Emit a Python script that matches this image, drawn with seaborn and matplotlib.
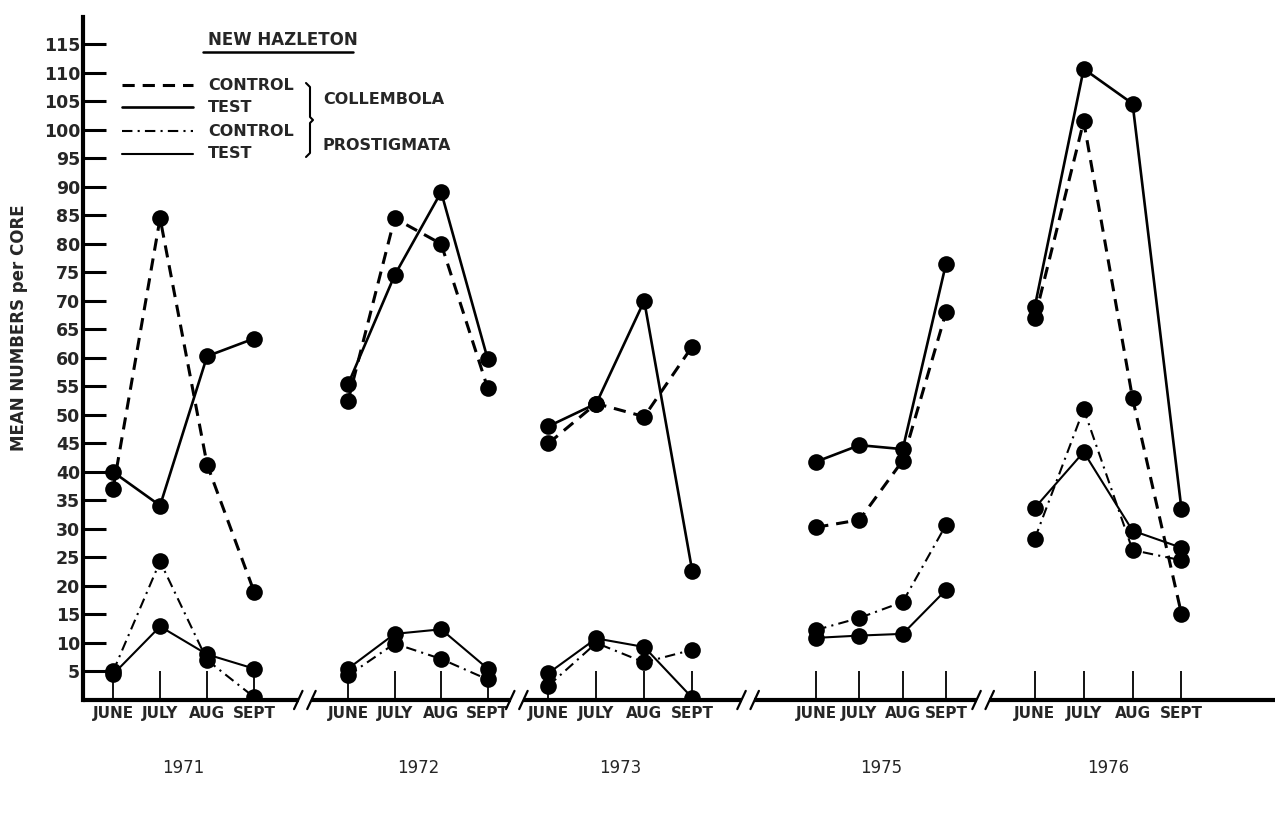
import matplotlib
matplotlib.use("Agg")
import matplotlib.pyplot as plt
import pandas as pd
import seaborn as sns
from matplotlib.lines import Line2D

# ---------------- data ----------------
YEARS = ["1971", "1972", "1973", "1975", "1976"]
MONTHS = ["JUNE", "JULY", "AUG", "SEPT"]

collembola_control = [
    [37.0, 84.5, 41.3, 19.0],
    [52.5, 84.5, 80.0, 54.7],
    [45.0, 52.0, 49.7, 62.0],
    [30.3, 31.6, 42.0, 68.0],
    [67.0, 101.5, 52.9, 15.1],
]
collembola_test = [
    [40.0, 34.1, 60.3, 63.4],
    [55.4, 74.5, 89.1, 59.8],
    [48.0, 52.0, 70.0, 22.7],
    [41.8, 44.7, 44.0, 76.5],
    [69.0, 110.7, 104.6, 33.5],
]
prostigmata_control = [
    [5.0, 24.3, 7.0, 0.5],
    [4.3, 9.9, 7.2, 3.6],
    [2.5, 10.0, 6.6, 8.8],
    [12.3, 14.4, 17.2, 30.7],
    [28.3, 51.0, 26.3, 24.5],
]
prostigmata_test = [
    [4.5, 12.9, 8.0, 5.5],
    [5.5, 11.6, 12.4, 5.5],
    [4.7, 10.8, 9.3, 0.4],
    [10.9, 11.3, 11.6, 19.3],
    [33.7, 43.5, 29.7, 26.7],
]
Y_TICKS = list(range(5, 120, 5))

# ---------------- layout (axis units) ----------------
GROUP_FIRST = [0.64, 5.64, 9.90, 15.60, 20.25]
GROUP_STEP = [1.00, 0.99, 1.02, 0.92, 1.04]
BREAKS = [4.72, 9.23, 14.15, 19.15]
XMAX = 25.36
YMAX = 119.8

series_list = [
    ("cc", collembola_control),
    ("ct", collembola_test),
    ("pc", prostigmata_control),
    ("pt", prostigmata_test),
]
rows = []
for name, vals in series_list:
    for gi, year in enumerate(YEARS):
        for mi, month in enumerate(MONTHS):
            rows.append(dict(series=name, year=year, month=month,
                             x=GROUP_FIRST[gi] + mi * GROUP_STEP[gi],
                             value=vals[gi][mi]))
df = pd.DataFrame(rows)

STYLES = {
    "cc": dict(linestyle=(0, (4, 2.6)), linewidth=2.2),
    "ct": dict(linestyle="-", linewidth=1.9),
    "pc": dict(linestyle=(0, (5, 2.5, 1, 2.5)), linewidth=1.5),
    "pt": dict(linestyle="-", linewidth=1.5),
}

sns.set_style("ticks")
plt.rcParams["font.family"] = ["DejaVu Sans"]

W, H = 1277, 824
fig = plt.figure(figsize=(W / 100, H / 100), dpi=100)
ax = fig.add_axes([83 / W, 124 / H, (1275 - 83) / W, (700 - 17) / H])

for name, _ in series_list:
    sns.lineplot(data=df[df.series == name], x="x", y="value", units="year",
                 estimator=None, sort=False, color="black", marker="o",
                 markersize=12, markeredgecolor="black", markeredgewidth=0,
                 legend=False, ax=ax, **STYLES[name])

ax.set_xlim(0, XMAX)
ax.set_ylim(0, YMAX)
ax.set_xlabel("")
ax.set_ylabel("")

xt = [GROUP_FIRST[g] + m * GROUP_STEP[g] for g in range(len(YEARS)) for m in range(len(MONTHS))]
ax.set_xticks(xt)
ax.set_xticklabels(MONTHS * len(YEARS))
ax.set_yticks(Y_TICKS)
ax.set_yticklabels([str(v) for v in Y_TICKS])
ax.tick_params(axis="y", direction="in", length=16.5, width=2.2, pad=2,
               labelsize=12.5, color="black")
ax.tick_params(axis="x", direction="in", length=21, width=1.3, pad=4,
               labelsize=11, color="black")
for lab in ax.get_yticklabels() + ax.get_xticklabels():
    lab.set_fontweight("bold")

for s in ["top", "right", "bottom"]:
    ax.spines[s].set_visible(False)
ax.spines["left"].set_linewidth(3)
ax.spines["left"].set_color("black")

# broken x axis
edges = [0] + BREAKS + [XMAX]
gap = 0.13
for i in range(len(edges) - 1):
    a = edges[i] + (gap if i > 0 else 0)
    b = edges[i + 1] - (gap if i < len(edges) - 2 else 0)
    ax.plot([a, b], [0, 0], color="black", lw=3, clip_on=False,
            solid_capstyle="butt")
for b in BREAKS:
    for dx in (-0.14, 0.14):
        ax.plot([b + dx - 0.09, b + dx + 0.09], [-1.6, 1.6], color="black",
                lw=1.6, clip_on=False)

# year labels
for gi, year in enumerate(YEARS):
    c = GROUP_FIRST[gi] + 1.5 * GROUP_STEP[gi]
    ax.text(c, -0.10, year, transform=ax.get_xaxis_transform(), ha="center",
            va="center", fontsize=12)

fx = lambda x: x / W
fy = lambda y: 1 - y / H

fig.text(fx(19), fy(328), "MEAN NUMBERS per CORE", rotation=90, ha="center",
         va="center", fontsize=12, fontweight="bold")

# legend block
fig.text(fx(208), fy(40), "NEW HAZLETON", ha="left", va="center",
         fontsize=12, fontweight="bold")
fig.add_artist(Line2D([fx(203), fx(353)], [fy(52), fy(52)], color="black", lw=1.8))
leg = [(85, "CONTROL", "cc"), (107, "TEST", "ct"), (131, "CONTROL", "pc"), (154, "TEST", "pt")]
for y, lab, st in leg:
    fig.add_artist(Line2D([fx(122), fx(193)], [fy(y), fy(y)], color="black",
                          **STYLES[st]))
    fig.text(fx(208), fy(y), lab, ha="left", va="center", fontsize=11.5,
             fontweight="bold")
bx = [306, 310, 310, 313, 310, 310, 306]
by = [83, 87, 117, 120, 123, 153, 157]
fig.add_artist(Line2D([fx(v) for v in bx], [fy(v) for v in by], color="black", lw=1.5))
fig.text(fx(323), fy(100), "COLLEMBOLA", ha="left", va="center", fontsize=11.5,
         fontweight="bold")
fig.text(fx(323), fy(146), "PROSTIGMATA", ha="left", va="center", fontsize=11.5,
         fontweight="bold")

fig.savefig("out.png", dpi=100, facecolor="white")
